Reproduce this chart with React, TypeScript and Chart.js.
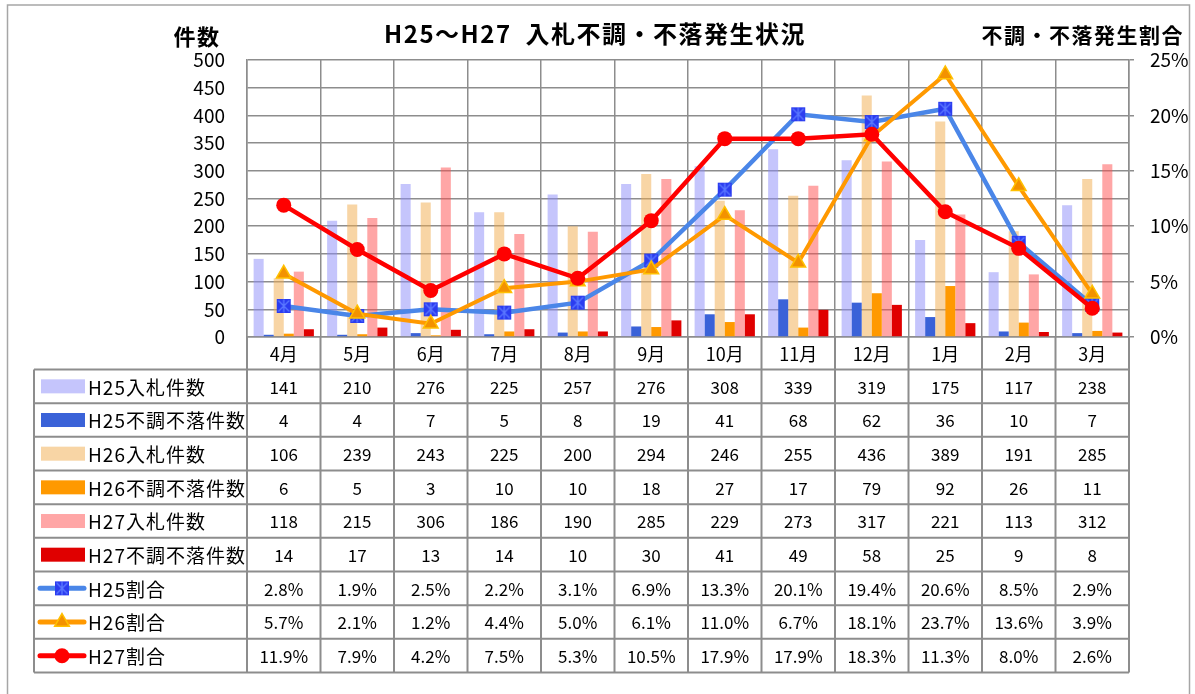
import React, { useEffect, useRef } from 'react';
import { Chart, registerables } from 'chart.js';

Chart.register(...registerables);

// ---- data ----
const months = ['4月', '5月', '6月', '7月', '8月', '9月', '10月', '11月', '12月', '1月', '2月', '3月'];
const h25Bids = [141, 210, 276, 225, 257, 276, 308, 339, 319, 175, 117, 238];
const h25Fails = [4, 4, 7, 5, 8, 19, 41, 68, 62, 36, 10, 7];
const h26Bids = [106, 239, 243, 225, 200, 294, 246, 255, 436, 389, 191, 285];
const h26Fails = [6, 5, 3, 10, 10, 18, 27, 17, 79, 92, 26, 11];
const h27Bids = [118, 215, 306, 186, 190, 285, 229, 273, 317, 221, 113, 312];
const h27Fails = [14, 17, 13, 14, 10, 30, 41, 49, 58, 25, 9, 8];
const h25Rates = [2.8, 1.9, 2.5, 2.2, 3.1, 6.9, 13.3, 20.1, 19.4, 20.6, 8.5, 2.9];
const h26Rates = [5.7, 2.1, 1.2, 4.4, 5.0, 6.1, 11.0, 6.7, 18.1, 23.7, 13.6, 3.9];
const h27Rates = [11.9, 7.9, 4.2, 7.5, 5.3, 10.5, 17.9, 17.9, 18.3, 11.3, 8.0, 2.6];

const countMax = 500;
const countStep = 50;
const rateMax = 25;
const rateStep = 5;

const titleText = 'H25～H27  入札不調・不落発生状況';
const leftAxisTitle = '件数';
const rightAxisTitle = '不調・不落発生割合';

// ---- styles ----
const FONT = '"Noto Sans CJK JP", "Noto Sans", sans-serif';
const GRID = '#8d8d8d';
const C_H25BID = 'rgba(140,140,250,0.5)';
const C_H25FAIL = '#3a62d8';
const C_H26BID = 'rgba(242,172,76,0.5)';
const C_H26FAIL = '#ff9900';
const C_H27BID = 'rgba(255,77,77,0.5)';
const C_H27FAIL = '#e00000';
const C_H25LINE = '#4a86e8';
const C_H26LINE = '#ff9900';
const C_H27LINE = '#ff0000';

function makeSquareMarker(): HTMLCanvasElement {
  const c = document.createElement('canvas');
  c.width = 16;
  c.height = 16;
  const g = c.getContext('2d')!;
  g.fillStyle = '#2b3cf0';
  g.fillRect(1, 1, 14, 14);
  g.strokeStyle = '#5a78ff';
  g.lineWidth = 1.4;
  g.beginPath();
  g.moveTo(2.5, 2.5); g.lineTo(13.5, 13.5);
  g.moveTo(13.5, 2.5); g.lineTo(2.5, 13.5);
  g.moveTo(8, 1.5); g.lineTo(8, 14.5);
  g.stroke();
  return c;
}

type Row = {
  label: string;
  values: number[];
  kind: 'bar' | 'line';
  color: string;
  marker?: 'square' | 'triangle' | 'circle';
  pct?: boolean;
};

export default function App() {
  const ref = useRef<HTMLCanvasElement | null>(null);

  useEffect(() => {
    document.body.style.margin = '0';
    const canvas = ref.current!;
    const squareMarker = makeSquareMarker();

    const rows: Row[] = [
      { label: 'H25入札件数', values: h25Bids, kind: 'bar', color: C_H25BID },
      { label: 'H25不調不落件数', values: h25Fails, kind: 'bar', color: C_H25FAIL },
      { label: 'H26入札件数', values: h26Bids, kind: 'bar', color: C_H26BID },
      { label: 'H26不調不落件数', values: h26Fails, kind: 'bar', color: C_H26FAIL },
      { label: 'H27入札件数', values: h27Bids, kind: 'bar', color: C_H27BID },
      { label: 'H27不調不落件数', values: h27Fails, kind: 'bar', color: C_H27FAIL },
      { label: 'H25割合', values: h25Rates, kind: 'line', color: C_H25LINE, marker: 'square', pct: true },
      { label: 'H26割合', values: h26Rates, kind: 'line', color: C_H26LINE, marker: 'triangle', pct: true },
      { label: 'H27割合', values: h27Rates, kind: 'line', color: C_H27LINE, marker: 'circle', pct: true },
    ];

    const drawMarker = (ctx: CanvasRenderingContext2D, kind: string, cx: number, cy: number) => {
      if (kind === 'square') {
        ctx.drawImage(squareMarker, cx - 8, cy - 8);
      } else if (kind === 'triangle') {
        const r = 8.5;
        ctx.beginPath();
        for (let k = 0; k < 3; k++) {
          const a = (k * 2 * Math.PI) / 3;
          const px = cx + Math.sin(a) * r;
          const py = cy - Math.cos(a) * r;
          if (k === 0) ctx.moveTo(px, py); else ctx.lineTo(px, py);
        }
        ctx.closePath();
        ctx.fillStyle = '#f39200';
        ctx.fill();
        ctx.strokeStyle = '#ffc000';
        ctx.lineWidth = 1.5;
        ctx.stroke();
      } else {
        ctx.beginPath();
        ctx.arc(cx, cy, 7.5, 0, Math.PI * 2);
        ctx.fillStyle = '#ff0000';
        ctx.fill();
      }
    };

    const tablePlugin = {
      id: 'dataTable',
      afterDraw(chart: any) {
        const ctx: CanvasRenderingContext2D = chart.ctx;
        const xs = chart.scales.x;
        const area = chart.chartArea;
        const n = months.length;
        const w = xs.getPixelForValue(1) - xs.getPixelForValue(0);
        const bounds: number[] = [];
        for (let i = 0; i < n; i++) bounds.push(xs.getPixelForValue(i) - w / 2);
        bounds.push(xs.getPixelForValue(n - 1) + w / 2);
        const labelTop = area.bottom;
        const tableTop = labelTop + 32.5;
        const rowH = 33.67;
        const tableLeft = 34;
        const tableBottom = tableTop + rows.length * rowH;

        ctx.save();
        // outer frame
        ctx.strokeStyle = '#a6a6a6';
        ctx.lineWidth = 1.5;
        ctx.strokeRect(7.5, 5, 1182, 740);

        // table lines
        ctx.strokeStyle = GRID;
        ctx.lineWidth = 2;
        ctx.beginPath();
        for (let k = 0; k <= rows.length; k++) {
          const y = tableTop + k * rowH;
          ctx.moveTo(tableLeft, y);
          ctx.lineTo(bounds[n], y);
        }
        for (const bx of bounds) {
          ctx.moveTo(bx, labelTop);
          ctx.lineTo(bx, tableBottom);
        }
        ctx.moveTo(tableLeft, tableTop);
        ctx.lineTo(tableLeft, tableBottom);
        ctx.stroke();

        // month labels
        ctx.fillStyle = '#000';
        ctx.textAlign = 'center';
        ctx.textBaseline = 'middle';
        ctx.font = `18px ${FONT}`;
        for (let i = 0; i < n; i++) {
          ctx.fillText(months[i], xs.getPixelForValue(i), labelTop + 17);
        }

        // rows
        rows.forEach((row, r) => {
          const cy = tableTop + r * rowH + rowH / 2;
          if (row.kind === 'bar') {
            ctx.fillStyle = '#fff';
            ctx.fillRect(41, cy - 7, 44, 14);
            ctx.fillStyle = row.color;
            ctx.fillRect(41, cy - 7, 44, 14);
          } else {
            ctx.strokeStyle = row.color;
            ctx.lineWidth = 5;
            ctx.lineCap = 'round';
            ctx.beginPath();
            ctx.moveTo(40, cy);
            ctx.lineTo(84, cy);
            ctx.stroke();
            ctx.lineCap = 'butt';
            drawMarker(ctx, row.marker!, 62, cy);
          }
          ctx.fillStyle = '#000';
          ctx.textAlign = 'left';
          ctx.font = `19px ${FONT}`;
          (ctx as any).letterSpacing = '1px';
          ctx.fillText(row.label, 88, cy + 1);
          (ctx as any).letterSpacing = '0px';
          ctx.textAlign = 'center';
          ctx.font = `17px ${FONT}`;
          row.values.forEach((v, i) => {
            const txt = row.pct ? `${v.toFixed(1)}%` : String(v);
            ctx.fillText(txt, xs.getPixelForValue(i), cy + 1);
          });
        });

        // titles
        ctx.fillStyle = '#000';
        ctx.textBaseline = 'middle';
        ctx.font = `bold 24px ${FONT}`;
        (ctx as any).letterSpacing = '1.5px';
        ctx.textAlign = 'center';
        ctx.fillText(titleText, 595, 34);
        ctx.font = `bold 22px ${FONT}`;
        ctx.fillText(leftAxisTitle, 197, 37);
        ctx.textAlign = 'right';
        ctx.font = `bold 21px ${FONT}`;
        ctx.fillText(rightAxisTitle, 1184, 35);
        (ctx as any).letterSpacing = '0px';
        ctx.restore();
      },
    };

    const barCommon = { type: 'bar' as const, yAxisID: 'y', order: 10, barPercentage: 1, categoryPercentage: 0.82 };

    const chart = new Chart(canvas, {
      type: 'bar',
      data: {
        labels: months,
        datasets: [
          { ...barCommon, label: rows[0].label, data: h25Bids, backgroundColor: C_H25BID },
          { ...barCommon, label: rows[1].label, data: h25Fails, backgroundColor: C_H25FAIL },
          { ...barCommon, label: rows[2].label, data: h26Bids, backgroundColor: C_H26BID },
          { ...barCommon, label: rows[3].label, data: h26Fails, backgroundColor: C_H26FAIL },
          { ...barCommon, label: rows[4].label, data: h27Bids, backgroundColor: C_H27BID },
          { ...barCommon, label: rows[5].label, data: h27Fails, backgroundColor: C_H27FAIL },
          {
            type: 'line', label: rows[6].label, data: h25Rates, yAxisID: 'y1', order: 3,
            borderColor: C_H25LINE, borderWidth: 4.5, tension: 0,
            pointStyle: squareMarker as any, pointRadius: 8,
          },
          {
            type: 'line', label: rows[7].label, data: h26Rates, yAxisID: 'y1', order: 2,
            borderColor: C_H26LINE, borderWidth: 4, tension: 0,
            pointStyle: 'triangle', pointRadius: 8.5, pointBackgroundColor: '#f39200',
            pointBorderColor: '#ffc000', pointBorderWidth: 1.5,
          },
          {
            type: 'line', label: rows[8].label, data: h27Rates, yAxisID: 'y1', order: 1,
            borderColor: C_H27LINE, borderWidth: 4.5, tension: 0,
            pointStyle: 'circle', pointRadius: 7.5, pointBackgroundColor: '#ff0000',
            pointBorderColor: '#ff0000', pointBorderWidth: 0,
          },
        ] as any,
      },
      options: {
        responsive: false,
        animation: false,
        devicePixelRatio: 1,
        layout: { padding: { top: 60, bottom: 324.5, left: 0, right: 0 } },
        plugins: {
          legend: { display: false },
          tooltip: { enabled: false },
          title: { display: false },
        },
        scales: {
          x: {
            grid: { color: GRID, lineWidth: 1.5, offset: true, drawTicks: false },
            border: { color: GRID, width: 1.5 },
            ticks: { display: false },
            afterFit: (s: any) => { s.height = 32.5; },
          },
          y: {
            position: 'left',
            min: 0,
            max: countMax,
            ticks: { stepSize: countStep, color: '#000', font: { family: FONT, size: 19 }, padding: 22 },
            grid: { color: GRID, lineWidth: 1.5, drawTicks: false },
            border: { color: GRID, width: 1.5 },
            afterFit: (s: any) => { s.width = 247; },
          },
          y1: {
            position: 'right',
            min: 0,
            max: rateMax,
            ticks: {
              stepSize: rateStep,
              color: '#000',
              font: { family: FONT, size: 19 },
              padding: 16,
              callback: (v: any) => `${v}%`,
            },
            grid: { drawOnChartArea: false, color: GRID, lineWidth: 1.5, tickLength: 5 },
            border: { color: GRID, width: 1.5 },
            afterFit: (s: any) => { s.width = 66; },
          },
        },
      } as any,
      plugins: [tablePlugin],
    });

    return () => chart.destroy();
  }, []);

  return (
    <div style={{ position: 'absolute', left: 0, top: 0, width: 1195, height: 694, background: '#fff' }}>
      <canvas ref={ref} width={1195} height={694} style={{ display: 'block' }} />
    </div>
  );
}
